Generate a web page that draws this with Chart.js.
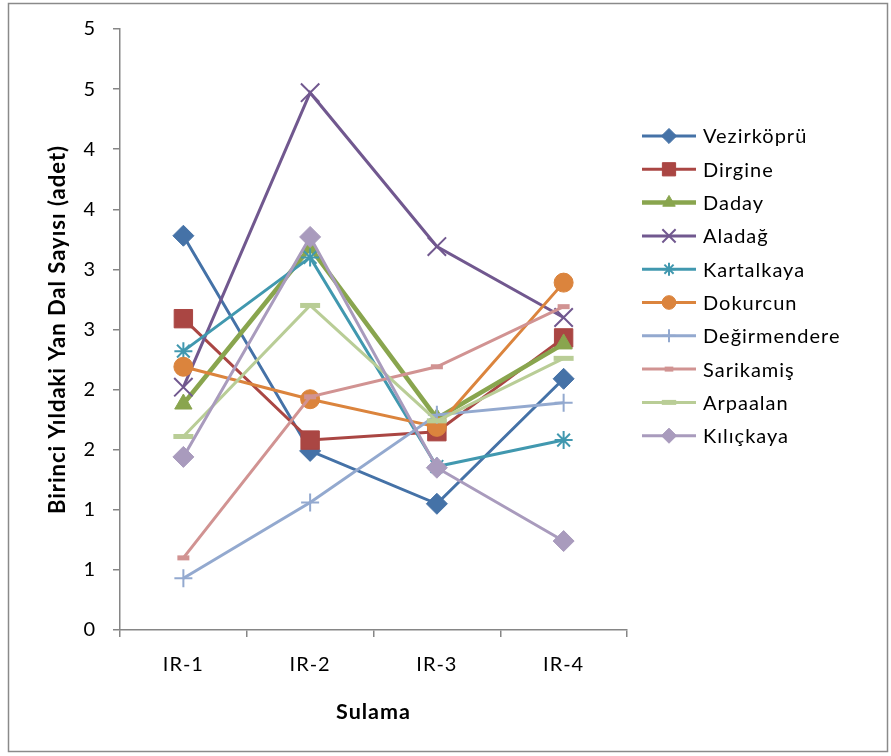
<!DOCTYPE html>
<html>
<head>
<meta charset="utf-8">
<script src="https://cdn.jsdelivr.net/npm/chart.js@4/dist/chart.umd.min.js"></script>
<style>
  body { margin: 0; background: #fff; }
  canvas { display: block; }
</style>
</head>
<body>
<canvas id="chart" width="891" height="756"></canvas>
<script>
// Irrigation levels
const categories = ["IR-1", "IR-2", "IR-3", "IR-4"];

// Series values
const vezirkopru = [3.28, 1.49, 1.05, 2.09];
const dirgine = [2.59, 1.58, 1.65, 2.43];
const daday = [1.88, 3.18, 1.76, 2.38];
const aladag = [2.02, 4.47, 3.19, 2.6];
const kartalkaya = [2.32, 3.1, 1.36, 1.58];
const dokurcun = [2.19, 1.92, 1.69, 2.89];
const degirmendere = [0.43, 1.06, 1.79, 1.89];
const sarikamis = [0.6, 1.94, 2.19, 2.69];
const arpaalan = [1.61, 2.7, 1.74, 2.26];
const kilickaya = [1.44, 3.27, 1.35, 0.74];

const FONT = 'Lato, "Liberation Sans", sans-serif';

function series(label, data, color, style, radius, opts = {}) {
  return Object.assign({
    label: label,
    data: data,
    borderColor: color,
    backgroundColor: color,
    borderWidth: 3,
    pointStyle: style,
    pointRadius: radius,
    pointHoverRadius: radius,
    pointBackgroundColor: color,
    pointBorderColor: color,
    pointBorderWidth: 1,
    tension: 0,
  }, opts);
}

const datasets = [
  series("Vezirköprü", vezirkopru, "#4572A7", "rectRot", 10.5),
  series("Dirgine", dirgine, "#AA4643", "rect", 13),
  series("Daday", daday, "#89A54E", "triangle", 10, { borderWidth: 4.5 }),
  series("Aladağ", aladag, "#71588F", "crossRot", 13, { pointBorderWidth: 2 }),
  series("Kartalkaya", kartalkaya, "#4198AF", "star", 9, { pointBorderWidth: 2 }),
  series("Dokurcun", dokurcun, "#DB843D", "circle", 9.5),
  series("Değirmendere", degirmendere, "#93A9CF", "cross", 9, { pointBorderWidth: 2 }),
  series("Sarikamiş", sarikamis, "#D19392", "line", 6, { pointBorderWidth: 5 }),
  series("Arpaalan", arpaalan, "#B9CD96", "line", 10, { pointBorderWidth: 5 }),
  series("Kılıçkaya", kilickaya, "#A99BBD", "rectRot", 10.5),
];
// later series drawn on top, like the original
datasets.forEach((d, i) => (d.order = datasets.length - i));

// Outer frame + slightly spaced lettering
const framePlugin = {
  id: "frame",
  beforeDraw(chart) {
    const ctx = chart.ctx;
    ctx.letterSpacing = "1px";
    ctx.save();
    ctx.fillStyle = "#fff";
    ctx.fillRect(0, 0, chart.width, chart.height);
    ctx.strokeStyle = "#8a8a8a";
    ctx.lineWidth = 1.5;
    ctx.strokeRect(8.5, 3.5, 879, 748);
    ctx.restore();
  },
};

// Excel-like legend: line with marker, then label
const legendPlugin = {
  id: "sideLegend",
  afterDraw(chart) {
    const ctx = chart.ctx;
    ctx.save();
    chart.data.datasets.forEach((ds, i) => {
      const y = 136 + i * 33.3;
      ctx.strokeStyle = ds.borderColor;
      ctx.lineWidth = ds.borderWidth;
      ctx.beginPath();
      ctx.moveTo(642, y);
      ctx.lineTo(696, y);
      ctx.stroke();
      ctx.fillStyle = ds.pointBackgroundColor;
      ctx.strokeStyle = ds.pointBorderColor;
      ctx.lineWidth = ds.pointBorderWidth;
      Chart.helpers.drawPoint(ctx, {
        pointStyle: ds.pointStyle,
        radius: ds.pointRadius * 0.72,
        rotation: 0,
        borderWidth: ds.pointBorderWidth,
      }, 669, y);
      ctx.fillStyle = "#000";
      ctx.font = "20px " + FONT;
      ctx.textBaseline = "middle";
      ctx.textAlign = "left";
      ctx.fillText(ds.label, 703, y + 1);
    });
    ctx.restore();
  },
};

new Chart(document.getElementById("chart"), {
  type: "line",
  data: { labels: categories, datasets: datasets },
  plugins: [framePlugin, legendPlugin],
  options: {
    responsive: false,
    animation: false,
    layout: { padding: { left: 0, top: 29, right: 264, bottom: 0 } },
    plugins: {
      legend: { display: false },
      tooltip: { enabled: false },
    },
    scales: {
      x: {
        offset: true,
        afterFit: (s) => { s.height = 126; },
        ticks: { color: "#000", font: { size: 20, family: FONT }, padding: 16 },
        grid: { offset: true, drawOnChartArea: false, tickLength: 7, color: "#868686", lineWidth: 1.5 },
        border: { color: "#868686", width: 1.5 },
        title: {
          display: true,
          text: "Sulama",
          color: "#000",
          font: { size: 21.5, weight: "bold", family: FONT },
          padding: { top: 0, bottom: 31 },
        },
      },
      y: {
        min: 0,
        max: 5,
        afterFit: (s) => { s.width = 120; },
        ticks: {
          stepSize: 0.5,
          color: "#000",
          font: { size: 20, family: FONT },
          padding: 17,
          callback: (v) => Math.round(v),
        },
        grid: { drawOnChartArea: false, tickLength: 7, color: "#868686", lineWidth: 1.5 },
        border: { color: "#868686", width: 1.5 },
        title: {
          display: true,
          text: "Birinci Yıldaki Yan Dal Sayısı (adet)",
          color: "#000",
          font: { size: 22, weight: "bold", family: FONT },
          padding: { top: 45, bottom: 0 },
        },
      },
    },
  },
});
</script>
</body>
</html>
